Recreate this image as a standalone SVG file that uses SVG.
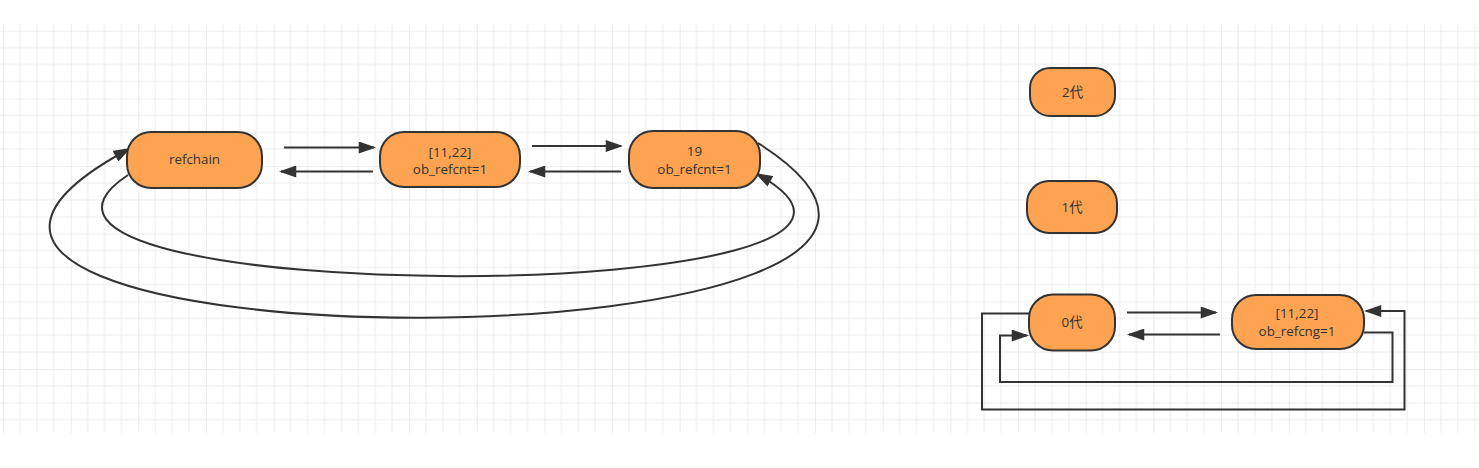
<svg xmlns="http://www.w3.org/2000/svg" width="1479" height="468" viewBox="0 0 1479 468">
  <style>
    .node rect { fill: #fda352; stroke: #333333; stroke-width: 2; }
    .node text { font-family: "Open Sans", "Noto Sans", "Noto Sans CJK SC", sans-serif; font-size: 13.4px; fill: #333333; text-anchor: middle; }
    .conn { fill: none; stroke: #333333; stroke-width: 2; }
    .arrow { marker-end: url(#arr); }
  </style>
  <defs>
    <pattern id="grid" patternUnits="userSpaceOnUse" x="3" y="30.7" width="67.67" height="67.67">
      <path d="M16.92,0 V67.67 M33.83,0 V67.67 M50.75,0 V67.67 M0,16.92 H67.67 M0,33.83 H67.67 M0,50.75 H67.67" stroke="#ececec" stroke-width="1" fill="none"/>
      <path d="M0,0 V67.67 M0,0 H67.67" stroke="#e0e0e0" stroke-width="1.2" fill="none"/>
    </pattern>
    <marker id="arr" markerUnits="userSpaceOnUse" markerWidth="18" markerHeight="12" viewBox="0 0 16 11" refX="14" refY="5.5" orient="auto">
      <path d="M0,0 L16,5.5 L0,11 z" fill="#333333"/>
    </marker>
  </defs>
  <rect x="0" y="0" width="1479" height="468" fill="#ffffff"/>
  <rect x="0" y="24" width="1479" height="409" fill="url(#grid)"/>

  <g id="connectors">
    <path class="conn arrow" d="M284,147.5 H374"/>
    <path class="conn arrow" d="M373,171.5 H281"/>
    <path class="conn arrow" d="M532,146 H621"/>
    <path class="conn arrow" d="M621,171.5 H530"/>
    <path class="conn arrow" d="M758,143 C1123,375 -293,375 129,149"/>
    <path class="conn arrow" d="M128,175 C-77,310 1004,310 757,174"/>
    <path class="conn arrow" d="M1127,312.5 H1216"/>
    <path class="conn arrow" d="M1220,334.5 H1129"/>
    <path class="conn arrow" d="M1029,313.5 H982 V409.5 H1404.5 V311 H1366"/>
    <path class="conn arrow" d="M1364,332.5 H1392.5 V382 H1000 V335.5 H1027"/>
  </g>

  <g id="node-refchain" class="node">
    <rect x="127" y="132" width="135" height="56" rx="24" ry="24"/>
    <text x="194.5" y="164">refchain</text>
  </g>
  <g id="node-list1" class="node">
    <rect x="380" y="132" width="140" height="55" rx="24" ry="24"/>
    <text x="450" y="156.5">[11,22]</text>
    <text x="450" y="174">ob_refcnt=1</text>
  </g>
  <g id="node-19" class="node">
    <rect x="629" y="131" width="131" height="57" rx="24" ry="24"/>
    <text x="694.5" y="156">19</text>
    <text x="694.5" y="174">ob_refcnt=1</text>
  </g>
  <g id="node-gen2" class="node">
    <rect x="1030" y="68" width="85" height="48" rx="20" ry="20"/>
    <text x="1072.5" y="97">2代</text>
  </g>
  <g id="node-gen1" class="node">
    <rect x="1027" y="181" width="90" height="52" rx="22" ry="22"/>
    <text x="1072" y="211.5">1代</text>
  </g>
  <g id="node-gen0" class="node">
    <rect x="1029" y="294.5" width="86" height="56" rx="24" ry="24"/>
    <text x="1072" y="327">0代</text>
  </g>
  <g id="node-list2" class="node">
    <rect x="1232" y="295" width="132" height="54" rx="24" ry="24"/>
    <text x="1297" y="318">[11,22]</text>
    <text x="1297" y="336">ob_refcng=1</text>
  </g>
</svg>
